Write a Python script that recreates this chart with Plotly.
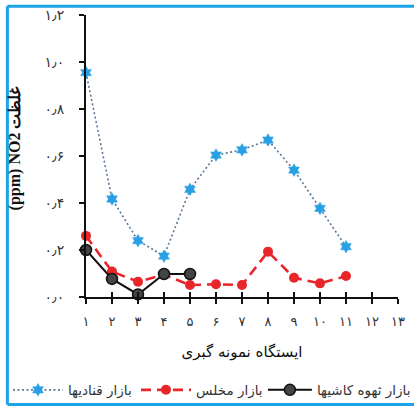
import plotly.graph_objects as go

# Sampling stations (1..13) and measured NO2 concentrations (ppm)
stations = list(range(1, 14))
station_labels = ["۱", "۲", "۳", "۴", "۵", "۶", "۷", "۸", "۹", "۱۰", "۱۱", "۱۲", "۱۳"]

qannadiha_x = [1, 2, 3, 4, 5, 6, 7, 8, 9, 10, 11]
qannadiha_y = [0.955, 0.417, 0.240, 0.174, 0.458, 0.604, 0.626, 0.668, 0.540, 0.377, 0.214]

mokhles_x = [1, 2, 3, 4, 5, 6, 7, 8, 9, 10, 11]
mokhles_y = [0.260, 0.108, 0.065, 0.095, 0.051, 0.054, 0.051, 0.193, 0.082, 0.058, 0.089]

kashiha_x = [1, 2, 3, 4, 5]
kashiha_y = [0.200, 0.077, 0.011, 0.098, 0.098]

y_ticks = [0.0, 0.2, 0.4, 0.6, 0.8, 1.0, 1.2]
y_tick_labels = ["۰٫۰", "۰٫۲", "۰٫۴", "۰٫۶", "۰٫۸", "۱٫۰", "۱٫۲"]

names = ["بازار قنادیها", "بازار مخلس", "بازار ثهوه کاشیها"]

FONT = "DejaVu Sans"
FRAME = "#1ba3e6"
LEGEND_FONT = dict(family=FONT, size=13.5, color="#333333")

fig = go.Figure()

fig.add_trace(go.Scatter(
    x=qannadiha_x, y=qannadiha_y, name=names[0], mode="lines+markers",
    line=dict(color="#5a7896", width=1.6, dash="2px,2.5px"),
    marker=dict(symbol="hexagram", size=9.5, color="#2aa0e4",
                line=dict(color="#2aa0e4", width=0.5)),
    cliponaxis=False, legend="legend",
))
fig.add_trace(go.Scatter(
    x=mokhles_x, y=mokhles_y, name=names[1], mode="lines+markers",
    line=dict(color="#e8262a", width=2.6, dash="10px,6px"),
    marker=dict(symbol="circle", size=10, color="#e8262a"),
    cliponaxis=False, legend="legend",
))
fig.add_trace(go.Scatter(
    x=kashiha_x, y=kashiha_y, name=names[2], mode="lines+markers",
    line=dict(color="#111111", width=2),
    marker=dict(symbol="circle", size=11, color="#444444",
                line=dict(color="#111111", width=1.5)),
    cliponaxis=False, legend="legend2",
))

# Second x axis over the first one, drawing the inner half of the ticks
fig.add_trace(go.Scatter(x=[1, 13], y=[0, 0], xaxis="x2", mode="markers",
                         marker=dict(opacity=0), showlegend=False, hoverinfo="skip"))

# Frame around the figure (left, top and bottom edges)
frame = [
    dict(x0=-0.252, x1=-0.252, y0=-0.381, y1=1.031),
    dict(x0=-0.252, x1=1.2, y0=1.031, y1=1.031),
    dict(x0=-0.252, x1=1.2, y0=-0.381, y1=-0.381),
]
shapes = [dict(type="line", xref="paper", yref="paper", line=dict(color=FRAME, width=3),
               layer="above", **f) for f in frame]

fig.update_layout(
    width=414, height=408,
    margin=dict(l=86, r=16, t=15, b=111, autoexpand=False),
    paper_bgcolor="white", plot_bgcolor="white",
    font=dict(family=FONT, size=13, color="#222222"),
    showlegend=True,
    legend=dict(
        orientation="h", x=-0.25, xanchor="left", y=-0.33, yanchor="middle",
        font=LEGEND_FONT, bgcolor="rgba(0,0,0,0)",
        itemwidth=50, entrywidth=63, entrywidthmode="pixels", tracegroupgap=0,
    ),
    legend2=dict(
        orientation="h", x=0.567, xanchor="left", y=-0.33, yanchor="middle",
        font=LEGEND_FONT, bgcolor="rgba(0,0,0,0)", itemwidth=44,
    ),
    xaxis=dict(
        range=[1, 13], tickmode="array", tickvals=stations, ticktext=station_labels,
        showline=True, linecolor="#111111", linewidth=2,
        ticks="outside", ticklen=5, tickwidth=2, tickcolor="#111111",
        showgrid=False, zeroline=False, ticklabelstandoff=6,
        tickfont=dict(family=FONT, size=13, color="#333333"),
        title=dict(text="ایستگاه نمونه گبری", standoff=19,
                   font=dict(family=FONT, size=15, color="#111111")),
    ),
    xaxis2=dict(
        overlaying="x", matches="x", anchor="y", side="bottom",
        tickmode="array", tickvals=stations, showticklabels=False,
        ticks="inside", ticklen=5, tickwidth=2, tickcolor="#111111",
        showline=False, showgrid=False, zeroline=False,
    ),
    yaxis=dict(
        range=[0, 1.2], tickmode="array", tickvals=y_ticks, ticktext=y_tick_labels,
        showline=True, linecolor="#111111", linewidth=2,
        ticks="outside", ticklen=5, tickwidth=2, tickcolor="#111111",
        showgrid=False, zeroline=False,
        tickfont=dict(family=FONT, size=14, color="#333333"),
        ticklabelstandoff=12,
    ),
    annotations=[dict(
        text="<b>(ppm) NO2 غلظت</b>", textangle=-90,
        xref="paper", yref="paper", x=-0.228, y=0.53,
        xanchor="center", yanchor="middle", showarrow=False,
        font=dict(family="Liberation Serif, DejaVu Serif", size=16, color="#111111"),
    )],
    shapes=shapes,
)

fig.write_html("out.html")
